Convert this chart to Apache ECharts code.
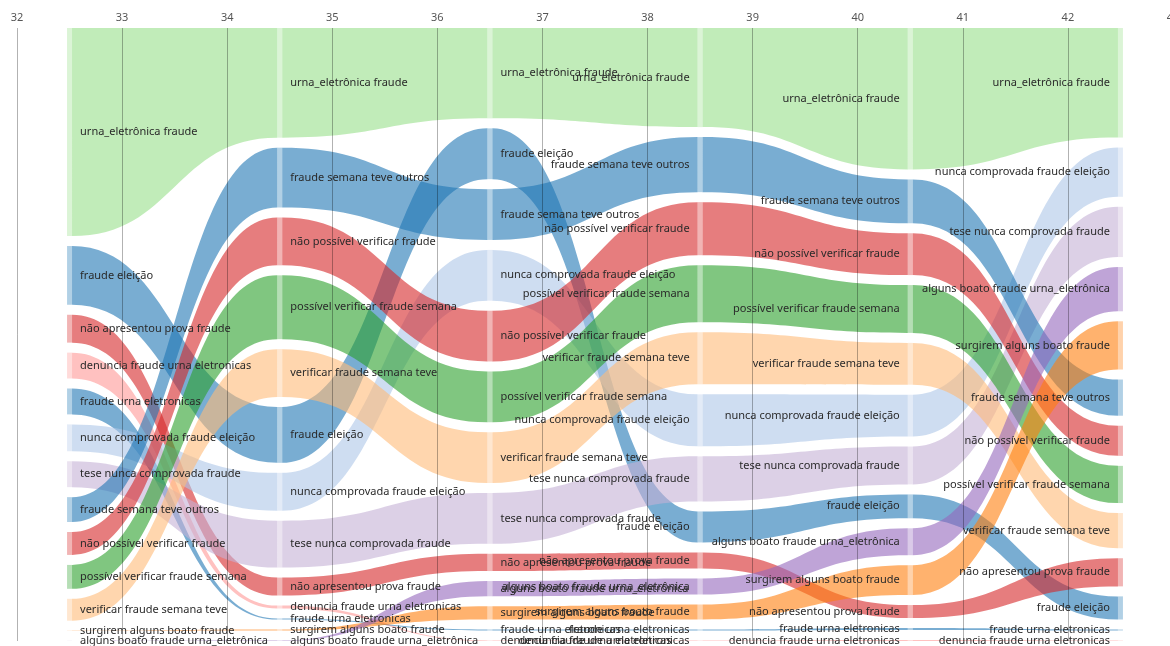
<!DOCTYPE html>
<html><head><meta charset="utf-8">
<script src="https://cdn.jsdelivr.net/npm/echarts@6/dist/echarts.min.js"></script>
<style>html,body{margin:0;padding:0;background:#fff}#c{width:1170px;height:646px}</style>
</head><body><div id="c"></div>
<script>
// Topics (categories)
const topics = [
  'urna_eletrônica fraude',            // 0
  'fraude eleição',                    // 1
  'não apresentou prova fraude',       // 2
  'denuncia fraude urna eletronicas',  // 3
  'fraude urna eletronicas',           // 4
  'nunca comprovada fraude eleição',   // 5
  'tese nunca comprovada fraude',      // 6
  'fraude semana teve outros',         // 7
  'não possível verificar fraude',     // 8
  'possível verificar fraude semana',  // 9
  'verificar fraude semana teve',      // 10
  'surgirem alguns boato fraude',      // 11
  'alguns boato fraude urna_eletrônica'// 12
];
const topicColors = ['#98df8a','#1f77b4','#d62728','#ff9896','#1f77b4','#aec7e8','#c5b0d5',
                     '#1f77b4','#d62728','#2ca02c','#ffbb78','#ff7f0e','#9467bd'];

// week positions of the layers
const weeks = [32.5, 34.5, 36.5, 38.5, 40.5, 42.5];
const tickLabels = [32,33,34,35,36,37,38,39,40,41,42,43];

// values per layer (aligned with topics)
const values0 = [209, 59, 28, 26, 26, 27, 26, 25, 23, 24, 22, 0.2, 0.1];
const values1 = [110, 56, 18, 3, 1, 38, 47, 60, 48, 64, 48, 1, 0.5];
const values2 = [89, 50, 17, 0.5, 1, 50, 50, 50, 50, 50, 50, 13, 15];
const values3 = [99, 31, 16, 0.5, 1, 52, 45, 55, 53, 57, 52, 15, 16];
const values4 = [142, 24, 13, 1, 2, 42, 38, 44, 42, 48, 42, 30, 27];
const values5 = [109, 23, 28, 0.5, 1, 49, 50, 36, 30, 37, 35, 48, 44];

// rank order per layer (topic indices, top to bottom)
const order0 = [0,1,2,3,4,5,6,7,8,9,10,11,12];
const order1 = [0,7,8,9,10,1,5,6,2,3,4,11,12];
const order2 = [0,1,7,5,8,9,10,6,2,12,11,4,3];
const order3 = [0,7,8,9,10,5,6,1,2,12,11,4,3];
const order4 = [0,7,8,9,10,5,6,1,12,11,2,4,3];
const order5 = [0,5,6,12,11,7,8,9,10,2,1,4,3];

const layerValues = [values0, values1, values2, values3, values4, values5];
const layerOrders = [order0, order1, order2, order3, order4, order5];

// layout (in y-axis units)
const TOTAL = 613, GAP = 10, NODE_W = 5;
const pos = layerValues.map((vals, l) => {
  const ord = layerOrders[l];
  const s = ord.reduce((a, t) => a + vals[t], 0);
  const k = (TOTAL - GAP * (ord.length - 1)) / s;
  const p = [];
  let y = 0;
  ord.forEach(t => { p[t] = [y, y + vals[t] * k]; y += vals[t] * k + GAP; });
  return p;
});

const linkData = [], nodeData = [];
topics.forEach((_, t) => {
  for (let l = 0; l < weeks.length; l++) {
    nodeData.push([weeks[l], (pos[l][t][0] + pos[l][t][1]) / 2, t, l]);
    if (l < weeks.length - 1) linkData.push([weeks[l], pos[l][t][0], t, l]);
  }
});

function renderLink(params, api) {
  const t = api.value(2), l = api.value(3);
  const a = pos[l][t], b = pos[l + 1][t];
  const xa = api.coord([weeks[l], 0])[0] + NODE_W / 2;
  const xb = api.coord([weeks[l + 1], 0])[0] - NODE_W / 2;
  const xm = (xa + xb) / 2;
  const ta = api.coord([weeks[l], a[0]])[1], ba = api.coord([weeks[l], a[1]])[1];
  const tb = api.coord([weeks[l + 1], b[0]])[1], bb = api.coord([weeks[l + 1], b[1]])[1];
  const d = `M${xa},${ta}C${xm},${ta} ${xm},${tb} ${xb},${tb}L${xb},${bb}C${xm},${bb} ${xm},${ba} ${xa},${ba}Z`;
  return { type: 'path', shape: { pathData: d }, style: { fill: topicColors[t], opacity: 0.6 }, silent: true };
}

function renderNode(params, api) {
  const t = api.value(2), l = api.value(3);
  const p = pos[l][t];
  const x = api.coord([weeks[l], 0])[0];
  const y0 = api.coord([weeks[l], p[0]])[1], y1 = api.coord([weeks[l], p[1]])[1];
  return { type: 'rect', shape: { x: x - NODE_W / 2, y: y0, width: NODE_W, height: Math.max(y1 - y0, 0) },
           style: { fill: topicColors[t], opacity: 0.35 }, silent: true };
}

function renderLabel(params, api) {
  const t = api.value(2), l = api.value(3);
  const p = api.coord([api.value(0), api.value(1)]);
  const left = l < 3;
  return { type: 'text', style: {
      text: topics[t], x: left ? p[0] + NODE_W / 2 + 8 : p[0] - NODE_W / 2 - 8, y: p[1],
      align: left ? 'left' : 'right', verticalAlign: 'middle',
      fill: '#2a2a2a', fontSize: 11, fontFamily: 'Noto Sans' }, silent: true };
}

const chart = echarts.init(document.getElementById('c'), null, { renderer: 'canvas' });
chart.setOption({
  animation: false,
  grid: { left: 17, top: 28, width: 1156, height: TOTAL, containLabel: false, outerBoundsMode: 'none' },
  xAxis: {
    type: 'value', position: 'top', min: 32, max: 43, interval: 1, z: 3,
    axisLine: { show: false }, axisTick: { show: false },
    axisLabel: { show: true, margin: 5, color: '#555', fontSize: 11, fontFamily: 'Noto Sans',
                 formatter: v => tickLabels.includes(v) ? String(v) : '' },
    splitLine: { show: true, lineStyle: { color: 'rgba(0,0,0,0.3)', width: 1 } }
  },
  yAxis: { type: 'value', inverse: true, min: 0, max: TOTAL, show: false },
  series: [
    { type: 'custom', renderItem: renderLink, data: linkData, z: 2, clip: false },
    { type: 'custom', renderItem: renderNode, data: nodeData, z: 2, clip: false },
    { type: 'custom', renderItem: renderLabel, data: nodeData, z: 5, clip: false }
  ]
});
</script></body></html>
